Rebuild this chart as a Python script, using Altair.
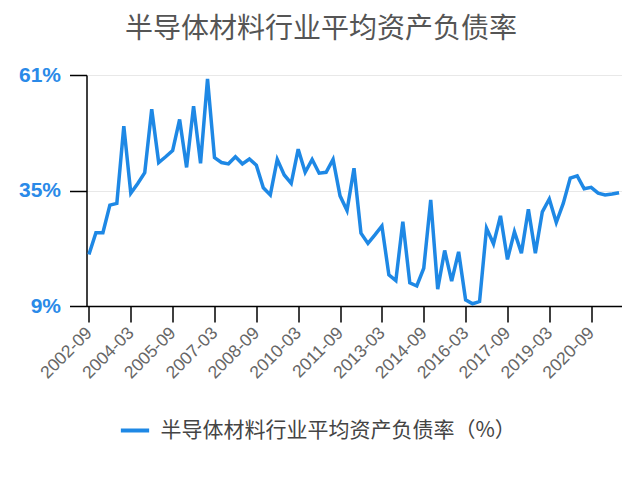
import altair as alt
import pandas as pd

series_name = "半导体材料行业平均资产负债率（%）"
title_text = "半导体材料行业平均资产负债率"

years = list(range(2002, 2022))
months = ["03", "06", "09", "12"]
quarters = [f"{y}-{m}" for y in years for m in months]
quarters = quarters[quarters.index("2002-09"):quarters.index("2021-09") + 1]

values = [20.6, 25.5, 25.5, 31.7, 32.1, 49.5, 34.4, 36.6, 39.0, 53.3,
          41.3, 42.6, 44.0, 51.0, 40.2, 54.0, 41.1, 60.1, 42.4, 41.3,
          41.0, 42.6, 41.0, 42.1, 40.7, 35.6, 34.0, 42.0, 38.5, 36.6,
          44.3, 39.1, 42.0, 38.9, 39.1, 42.0, 33.8, 30.5, 40.0, 25.4,
          23.1, 25.0, 27.0, 16.0, 14.7, 28.0, 14.2, 13.5, 17.5, 32.9,
          12.8, 21.5, 14.6, 21.2, 10.4, 9.5, 10.0, 26.5, 23.0, 29.3,
          19.5, 25.7, 20.9, 30.8, 20.9, 30.2, 33.1, 27.8, 32.1, 37.8,
          38.3, 35.4, 35.7, 34.4, 34.0, 34.2, 34.5]

x_tick_labels = ["2002-09", "2004-03", "2005-09", "2007-03", "2008-09",
                 "2010-03", "2011-09", "2013-03", "2014-09", "2016-03",
                 "2017-09", "2019-03", "2020-09"]
y_ticks = [9, 35, 61]

df = pd.DataFrame({"date": quarters, "value": values, "series": series_name})

line_color = "#1e88e5"

chart = alt.Chart(df).mark_line(strokeWidth=3.5, color=line_color).encode(
    x=alt.X("date:O", sort=quarters,
            scale=alt.Scale(type="point", padding=0.35),
            axis=alt.Axis(values=x_tick_labels, title=None, grid=False,
                          labelAngle=-45, labelAlign="right", labelBaseline="middle",
                          labelFontSize=17.5, labelColor="#666666", labelFont="Liberation Sans",
                          labelPadding=8, tickSize=16, tickColor="#000000", tickWidth=1.5,
                          domainColor="#000000", domainWidth=1.5)),
    y=alt.Y("value:Q", scale=alt.Scale(domain=[9, 61], nice=False, zero=False),
            axis=alt.Axis(values=y_ticks, title=None, labelExpr="datum.value + '%'",
                          labelFontSize=21, labelFontWeight="bold", labelColor="#2a8ae8",
                          labelFont="Liberation Sans", labelPadding=9,
                          tickSize=17, tickColor="#000000", tickWidth=1.5,
                          domainColor="#000000", domainWidth=1.5,
                          gridColor="#e8e8e8", gridWidth=1.2)),
    color=alt.Color("series:N",
                    scale=alt.Scale(domain=[series_name], range=[line_color]),
                    legend=alt.Legend(title=None, orient="none", legendX=32, legendY=339,
                                      symbolType="stroke", symbolSize=800, symbolStrokeWidth=4,
                                      labelFontSize=21, labelColor="#444444",
                                      labelFont="Noto Sans CJK SC", labelLimit=0,
                                      labelOffset=9)),
).properties(
    width=535,
    height=231,
    title=alt.Title(title_text, anchor="middle", dx=-33, offset=20,
                    fontSize=28, font="Noto Sans CJK SC", fontWeight="normal",
                    color="#555555"),
    autosize=alt.AutoSizeParams(type="none"),
    padding={"left": 78.5, "top": 67, "right": 10, "bottom": 163},
).configure_view(stroke=None)

chart.save("out.html", embed_options={"renderer": "svg", "actions": False})
